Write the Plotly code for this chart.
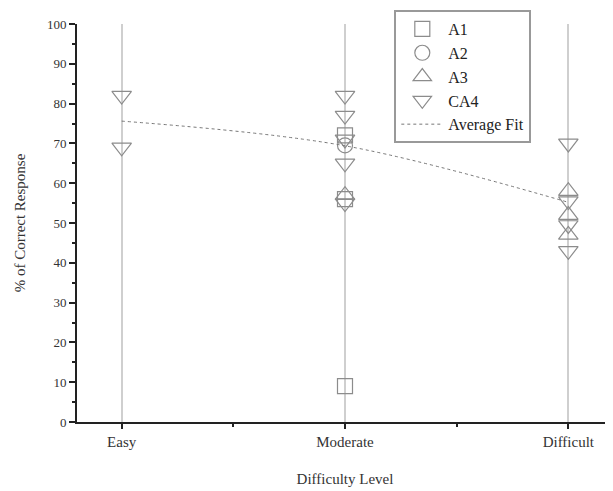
import plotly.graph_objects as go

categories = ["Easy", "Moderate", "Difficult"]

a1_cat = ["Moderate", "Moderate", "Moderate"]
a1_val = [72, 56, 9]

a2_cat = ["Moderate"]
a2_val = [69.5]

a3_cat = ["Moderate", "Difficult", "Difficult", "Difficult"]
a3_val = [57, 58, 52, 47]

ca4_cat = ["Easy", "Easy", "Moderate", "Moderate", "Moderate", "Moderate", "Moderate",
           "Difficult", "Difficult", "Difficult", "Difficult"]
ca4_val = [82, 69, 82, 77, 71, 65, 55, 70, 55.5, 49.5, 43]

fit_cat = ["Easy", "Moderate", "Difficult"]
fit_val = [75.6, 69.4, 55.2]

y_ticks = [0, 10, 20, 30, 40, 50, 60, 70, 80, 90, 100]

pos = {c: i + 1 for i, c in enumerate(categories)}
def xs(cats):
    return [pos[c] for c in cats]

FONT = "Liberation Serif, Times New Roman, serif"
MC = "#8c8c8c"

fig = go.Figure()
fig.add_trace(go.Scatter(x=xs(a1_cat), y=a1_val, mode="markers", name="A1",
                         marker=dict(symbol="square-open", size=15, color=MC, line=dict(width=1.2))))
fig.add_trace(go.Scatter(x=xs(a2_cat), y=a2_val, mode="markers", name="A2",
                         marker=dict(symbol="circle-open", size=15, color=MC, line=dict(width=1.2))))
fig.add_trace(go.Scatter(x=xs(a3_cat), y=a3_val, mode="markers", name="A3",
                         marker=dict(symbol="triangle-up-open", size=17, color=MC, line=dict(width=1.2))))
fig.add_trace(go.Scatter(x=xs(ca4_cat), y=ca4_val, mode="markers", name="CA4",
                         marker=dict(symbol="triangle-down-open", size=17, color=MC, line=dict(width=1.2))))
fig.add_trace(go.Scatter(x=xs(fit_cat), y=fit_val, mode="lines", name="Average Fit",
                         line=dict(color="#777777", width=1, dash="dot", shape="spline")))

fig.update_layout(
    width=605, height=483,
    margin=dict(l=69, r=0, t=16, b=69, autoexpand=False),
    paper_bgcolor="white", plot_bgcolor="white",
    font=dict(family=FONT, size=13, color="#333333"),
    showlegend=True,
    legend=dict(x=0.592, y=1.035, xanchor="left", yanchor="top",
                bordercolor="#999999", borderwidth=2, bgcolor="white",
                font=dict(family=FONT, size=16, color="#222222"),
                itemwidth=42, tracegroupgap=0),
)
fig.update_xaxes(
    range=[0.8, 3.2], tickmode="array", tickvals=[pos[c] for c in categories],
    ticktext=categories, showgrid=True, gridcolor="#cfcfcf", gridwidth=2,
    zeroline=False, showline=True, linecolor="#222222", linewidth=2,
    ticks="outside", ticklen=5, tickwidth=2, tickcolor="#222222", automargin=False,
    tickfont=dict(family=FONT, size=15, color="#333333"),
    minor=dict(tickvals=[1.5, 2.5], ticks="outside", ticklen=3, tickwidth=2,
               tickcolor="#222222", showgrid=False),
    title=dict(text="Difficulty Level", font=dict(family=FONT, size=15, color="#333333"), standoff=24),
)
fig.update_yaxes(
    range=[0, 100], tickmode="array", tickvals=y_ticks,
    showgrid=False, zeroline=False, showline=True, linecolor="#222222", linewidth=2,
    ticks="outside", ticklen=6, tickwidth=2, tickcolor="#222222", automargin=False,
    tickfont=dict(family=FONT, size=13, color="#333333"),
    minor=dict(dtick=5, ticks="outside", ticklen=3, tickwidth=2, tickcolor="#222222", showgrid=False),
    title=dict(text="% of Correct Response", font=dict(family=FONT, size=15, color="#333333"), standoff=18),
)

fig.write_html("out.html")
